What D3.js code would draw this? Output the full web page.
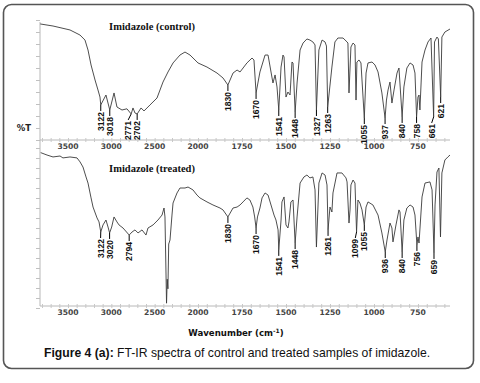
<!DOCTYPE html>
<html><head><meta charset="utf-8">
<script src="https://cdn.jsdelivr.net/npm/d3@7"></script>
<style>html,body{margin:0;padding:0;background:#fff;}svg{display:block;}</style>
</head><body>
<script>
// ---- data ----
const axisTickLabels = [3500, 3000, 2500, 2000, 1750, 1500, 1250, 1000, 750];
const controlSpectrum = [[3820,96.7],[3673,95],[3477,91.7],[3362,87.5],[3304,83.3],[3269,75],[3234,62.5],[3188,50],[3154,41.7],[3131,35.8],[3122,29.2],[3062,37.5],[3018,25],[2969,39.2],[2935,27.5],[2877,25],[2820,26],[2771,21.7],[2750,26.7],[2727,22.5],[2702,21.7],[2657,26.7],[2623,24.2],[2554,29.2],[2473,35],[2404,48.3],[2346,56.7],[2288,64.2],[2208,70.8],[2150,73.3],[2092,70.8],[2000,64.2],[1949,60.8],[1892,55.8],[1858,51.7],[1830,45.8],[1801,55.8],[1778,58.3],[1761,56.7],[1722,64.2],[1693,68.3],[1682,66.7],[1670,39.2],[1648,56.7],[1619,70.8],[1602,70.8],[1574,47.5],[1562,54.2],[1551,44.2],[1541,25],[1528,60.8],[1517,70.8],[1511,69.2],[1500,35.8],[1489,40],[1477,37.5],[1466,65],[1460,64.2],[1448,23.3],[1437,47.5],[1420,75],[1403,80.8],[1381,84.2],[1364,83.3],[1347,81.7],[1335,79.2],[1327,25],[1313,75],[1295,83.3],[1278,81.7],[1270,78.3],[1263,27.5],[1239,60.8],[1222,81.7],[1205,85],[1176,85],[1153,81.7],[1148,80.8],[1142,39.2],[1131,77.5],[1119,80.8],[1108,79.2],[1102,33.3],[1097,65],[1085,66.7],[1074,64.2],[1055,18.3],[1045,55.8],[1034,64.2],[1011,65],[994,62.5],[977,56.7],[955,39.2],[937,18.3],[929,33.3],[920,41.7],[909,48.3],[898,30.8],[886,41.7],[869,55.8],[858,60],[840,19.2],[830,44.2],[813,60],[795,64.2],[778,62.5],[767,55.8],[758,19.2],[750,35.8],[744,37.5],[739,25],[727,65],[710,75],[693,81.7],[676,85],[661,19.2],[656,81.7],[642,85.8],[634,84.2],[621,35.8],[614,85.8],[597,90],[568,92.5]];
const treatedSpectrum = [[3815,97.1],[3742,95.6],[3673,94.4],[3592,95],[3558,93.8],[3477,94.4],[3396,93.8],[3361,91.3],[3327,88.1],[3292,81.9],[3269,78.1],[3234,68.8],[3211,63.1],[3165,56.3],[3142,53.8],[3122,47.5],[3096,51.9],[3062,55],[3038,50.6],[3020,46.9],[2996,50.6],[2969,56.9],[2935,53.8],[2911,51.9],[2865,50],[2794,45.6],[2761,47.5],[2727,48.8],[2692,46.9],[2646,48.8],[2600,45.6],[2577,50],[2519,51.9],[2462,55],[2415,58.1],[2392,62.5],[2381,56.9],[2363,3],[2355,18],[2347,12],[2338,40],[2323,42.5],[2300,58.1],[2288,65.6],[2242,71.9],[2208,75],[2150,75],[2115,75.6],[2058,73.8],[2012,70.6],[1989,68.8],[1949,66.3],[1915,64.4],[1875,62.5],[1858,61.3],[1830,56.9],[1801,62.5],[1778,63.1],[1761,64.4],[1744,66.3],[1722,68.8],[1705,67.5],[1688,63.1],[1678,56.9],[1670,50],[1662,56.9],[1648,62.5],[1636,68.8],[1619,71.9],[1602,70.6],[1580,62.5],[1568,58.1],[1557,55],[1545,48.8],[1541,36.3],[1528,55],[1523,66.3],[1511,69.4],[1500,51.9],[1489,50],[1483,53.8],[1472,66.3],[1460,67.5],[1448,40.6],[1437,56.9],[1420,78.1],[1398,81.9],[1381,83.1],[1364,81.3],[1347,81.9],[1335,73.8],[1327,38.1],[1313,78.1],[1295,84.4],[1278,83.1],[1267,76.9],[1261,48.8],[1250,63.1],[1239,60],[1233,71.9],[1210,84.4],[1182,84.4],[1159,81.3],[1153,78.8],[1142,53.1],[1136,61.3],[1131,76.9],[1119,80],[1108,78.1],[1099,47.5],[1091,67.5],[1080,65.6],[1068,61.3],[1055,51.9],[1045,63.1],[1034,66.3],[1006,64.4],[977,58.1],[955,46.9],[936,35],[926,42.5],[909,53.1],[898,50],[892,41.3],[875,51.9],[858,61.3],[852,60],[840,35],[830,55],[813,62.5],[795,64.4],[778,63.1],[767,58.1],[756,39.4],[750,44.4],[744,40.6],[727,69.4],[710,78.1],[682,78.8],[670,73.8],[659,34.4],[653,64.4],[642,85],[631,87.5],[622,44.4],[614,84.4],[597,92.5],[580,94.4],[568,95.6]];
const controlPeaks = [3122,3018,2771,2702,1830,1670,1541,1448,1327,1263,1055,937,840,758,661,621];
const treatedPeaks = [3122,3020,2794,1830,1670,1541,1448,1261,1099,1055,936,840,756,659];
const titles = ["Imidazole (control)", "Imidazole (treated)"];

// ---- layout ----
const W = 480, H = 383;
const svg = d3.select("body").append("svg").attr("width", W).attr("height", H);
svg.append("rect").attr("width", W).attr("height", H).attr("fill", "#fff");
svg.append("rect").attr("x", 3.5).attr("y", 4.5).attr("width", 470).attr("height", 364)
  .attr("rx", 8).attr("fill", "none").attr("stroke", "#555").attr("stroke-width", 1.6);

const x = d3.scaleLinear().domain([3823, 2000, 568]).range([40, 198, 450]);
const yTop = d3.scaleLinear().domain([0, 100]).range([140, 20]);
const yBot = d3.scaleLinear().domain([0, 100]).range([308, 148]);

const minorTicks = d3.range(3800, 2000, -100).concat(d3.range(2000, 560, -50));

function xAxis(yPos) {
  const g = svg.append("g").attr("transform", `translate(0,${yPos})`);
  g.call(d3.axisBottom(x).tickValues(minorTicks).tickSize(2).tickFormat(""));
  g.selectAll("path.domain").attr("stroke", "#b8b8b8").attr("stroke-width", 1).attr("d", `M40,0H450`);
  g.selectAll(".tick line").attr("stroke", "#c8c8c8").attr("y1", -2);
  const lab = svg.append("g");
  lab.selectAll("text").data(axisTickLabels).join("text")
    .attr("x", d => x(d)).attr("y", yPos + 9)
    .attr("text-anchor", "middle")
    .attr("font-family", "DejaVu Sans, Verdana, sans-serif").attr("font-size", 7.6)
    .attr("font-weight", "bold").attr("fill", "#444")
    .text(d => d);
}
function yAxis(scale, y0, y1, step) {
  const g = svg.append("g").attr("transform", "translate(40,0)");
  g.call(d3.axisLeft(scale).tickValues(d3.range(0, 101, step)).tickSize(4).tickFormat(""));
  g.selectAll("path.domain").attr("stroke", "#b8b8b8").attr("d", `M0,${y0}V${y1}`);
  g.selectAll(".tick line").attr("stroke", "#c0c0c0");
}
yAxis(yTop, 22, 140, 10);
yAxis(yBot, 140, 306, 6.25);
xAxis(140);
xAxis(306);

const line = (ys) => d3.line().x(d => x(d[0])).y(d => ys(d[1]));

function lookup(data, w) {
  for (let i = 0; i < data.length - 1; i++) {
    const a = data[i], b = data[i + 1];
    if (w <= a[0] && w >= b[0]) {
      const t = (a[0] - w) / (a[0] - b[0] || 1);
      return a[1] + t * (b[1] - a[1]);
    }
  }
  return data[data.length - 1][1];
}

function panel(data, ys, peaks, title, titleY) {
  svg.append("path").datum(data).attr("d", line(ys))
    .attr("fill", "none").attr("stroke", "#3a3a3a").attr("stroke-width", 0.9)
    .attr("stroke-linejoin", "round");
  // label x positions, nudged apart (right-to-left) so neighbours don't collide
  const items = peaks.map(p => ({ p, px: x(p), py: ys(lookup(data, p)) }));
  items.sort((a, b) => a.px - b.px);
  for (let i = items.length - 1; i >= 0; i--) {
    items[i].lx = items[i].px;
    if (i < items.length - 1 && items[i].lx > items[i + 1].lx - 9) items[i].lx = items[i + 1].lx - 9;
  }
  const pg = svg.append("g");
  items.forEach(d => {
    pg.append("line").attr("x1", d.px).attr("x2", d.lx).attr("y1", d.py).attr("y2", d.py + 6)
      .attr("stroke", "#000").attr("stroke-width", 1);
    pg.append("text")
      .attr("transform", `translate(${d.lx + 3.2},${d.py + 7}) rotate(-90)`)
      .attr("text-anchor", "end")
      .attr("font-family", "Liberation Sans, Arial, sans-serif").attr("font-size", 8.5)
      .attr("font-weight", "bold").attr("fill", "#111")
      .text(d.p);
  });
  svg.append("text").attr("x", 152).attr("y", titleY).attr("text-anchor", "middle")
    .attr("font-family", "Liberation Serif, Times New Roman, serif").attr("font-weight", "bold")
    .attr("font-size", 10.5).attr("fill", "#111").text(title);
}
panel(controlSpectrum, yTop, controlPeaks, titles[0], 30);
panel(treatedSpectrum, yBot, treatedPeaks, titles[1], 172);

svg.append("text").attr("x", 24).attr("y", 131).attr("text-anchor", "middle")
  .attr("font-family", "DejaVu Sans, Verdana, sans-serif").attr("font-weight", "bold")
  .attr("font-size", 8.5).attr("fill", "#222").text("%T");

const xl = svg.append("text").attr("x", 236).attr("y", 336).attr("text-anchor", "middle")
  .attr("font-family", "DejaVu Sans, Verdana, sans-serif").attr("font-weight", "bold")
  .attr("font-size", 8.6).attr("fill", "#111");
xl.append("tspan").text("Wavenumber (cm");
xl.append("tspan").attr("dy", -3).attr("font-size", 6).text("-1");
xl.append("tspan").attr("dy", 3).text(")");

const cap = svg.append("text").attr("x", 237).attr("y", 357).attr("text-anchor", "middle")
  .attr("font-family", "Liberation Sans, Arial, sans-serif").attr("font-size", 12.2).attr("fill", "#111");
cap.append("tspan").attr("font-weight", "bold").text("Figure 4 (a):");
cap.append("tspan").text(" FT-IR spectra of control and treated samples of imidazole.");
</script>
</body></html>
